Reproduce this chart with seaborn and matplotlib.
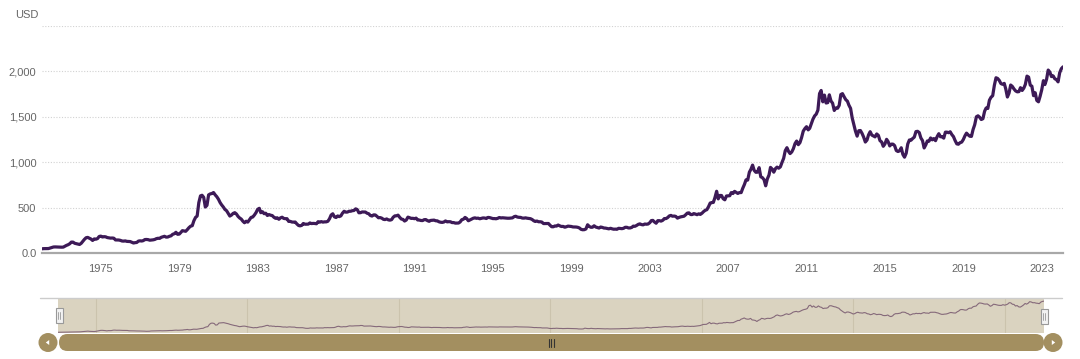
import matplotlib
matplotlib.use("Agg")
import matplotlib.pyplot as plt
from matplotlib.patches import FancyBboxPatch, Circle, Rectangle, Polygon
from matplotlib.ticker import FuncFormatter
import pandas as pd
import seaborn as sns

# gold price, USD per ounce, month-end points
# (first point sits on 1 Jan 1972, last one on 1 Feb 2024)
gold_start = [46]
gold_1970s = [
    48, 48, 48, 49, 55, 62, 66, 67, 66, 65, 63, 64,
    65, 74, 84, 91, 102, 120, 120, 107, 103, 100, 94, 107,
    129, 150, 168, 172, 163, 154, 138, 155, 152, 159, 182, 186,
    176, 180, 178, 170, 167, 164, 165, 163, 144, 143, 143, 139,
    132, 131, 133, 128, 127, 126, 118, 110, 114, 116, 131, 134,
    132, 136, 148, 149, 147, 141, 143, 145, 149, 158, 162, 161,
    173, 178, 184, 175, 176, 184, 189, 206, 212, 228, 206, 208,
    227, 246, 242, 239, 258, 279, 295, 301, 355, 392, 407, 555,
]
gold_1980s = [
    629, 636, 613, 506, 525, 640, 651, 655, 666, 640, 620, 592,
    555, 530, 507, 480, 466, 436, 407, 418, 436, 444, 430, 403,
    385, 374, 350, 333, 350, 340, 366, 392, 396, 418, 444, 481,
    492, 444, 455, 433, 438, 413, 423, 416, 412, 393, 382, 388,
    371, 387, 394, 381, 378, 378, 348, 348, 341, 340, 341, 320,
    303, 299, 304, 325, 317, 317, 318, 331, 324, 326, 325, 322,
    345, 339, 346, 340, 343, 343, 349, 377, 418, 432, 398, 391,
    408, 401, 409, 439, 460, 450, 451, 460, 460, 466, 468, 486,
    478, 443, 444, 452, 452, 451, 438, 432, 413, 407, 420, 419,
    404, 388, 390, 384, 371, 368, 375, 365, 362, 367, 394, 409,
]
gold_1990s = [
    410, 417, 393, 374, 370, 352, 363, 395, 389, 381, 382, 378,
    384, 364, 363, 358, 357, 367, 368, 356, 349, 359, 360, 362,
    355, 354, 344, 339, 337, 341, 353, 343, 345, 344, 335, 335,
    329, 329, 330, 342, 367, 372, 392, 379, 355, 364, 374, 383,
    387, 382, 384, 377, 381, 386, 385, 380, 392, 390, 384, 379,
    379, 377, 382, 391, 386, 388, 386, 384, 383, 383, 385, 387,
    400, 405, 396, 393, 392, 385, 384, 387, 383, 381, 378, 369,
    355, 347, 352, 344, 344, 341, 324, 324, 323, 325, 306, 289,
    289, 298, 296, 308, 299, 292, 293, 284, 289, 296, 294, 292,
    287, 287, 286, 283, 276, 261, 256, 257, 265, 311, 293, 283,
]
gold_2000s = [
    284, 300, 286, 280, 275, 286, 282, 275, 274, 270, 266, 272,
    266, 262, 263, 261, 272, 270, 268, 272, 283, 283, 276, 276,
    282, 296, 294, 303, 315, 321, 313, 310, 319, 317, 319, 333,
    357, 359, 341, 328, 356, 356, 351, 360, 379, 379, 390, 408,
    414, 405, 407, 403, 384, 392, 398, 401, 405, 421, 439, 442,
    424, 423, 434, 429, 422, 431, 425, 438, 456, 470, 477, 510,
    550, 555, 557, 611, 680, 596, 634, 633, 598, 586, 628, 630,
    631, 665, 655, 679, 667, 656, 666, 665, 713, 755, 806, 803,
    890, 922, 968, 910, 889, 890, 940, 839, 830, 807, 740, 816,
    859, 943, 924, 890, 929, 946, 934, 949, 997, 1043, 1127, 1160,
]
gold_2010s = [
    1118, 1095, 1113, 1149, 1205, 1233, 1193, 1216, 1271, 1342, 1370, 1391,
    1356, 1373, 1424, 1474, 1510, 1529, 1573, 1756, 1790, 1665, 1739, 1652,
    1656, 1742, 1674, 1650, 1570, 1597, 1594, 1626, 1745, 1755, 1721, 1689,
    1672, 1628, 1593, 1488, 1414, 1342, 1287, 1347, 1349, 1317, 1276, 1222,
    1244, 1300, 1336, 1299, 1289, 1279, 1311, 1295, 1237, 1223, 1175, 1201,
    1252, 1227, 1179, 1199, 1199, 1182, 1128, 1118, 1125, 1159, 1086, 1055,
    1098, 1200, 1245, 1242, 1261, 1276, 1337, 1340, 1327, 1267, 1238, 1157,
    1192, 1234, 1231, 1267, 1246, 1260, 1237, 1283, 1314, 1280, 1282, 1265,
    1331, 1331, 1325, 1335, 1304, 1282, 1238, 1202, 1198, 1215, 1221, 1250,
    1292, 1320, 1301, 1286, 1284, 1359, 1413, 1500, 1511, 1495, 1470, 1479,
]
gold_2020s = [
    1561, 1597, 1592, 1683, 1716, 1732, 1847, 1930, 1922, 1900, 1866, 1858,
    1868, 1808, 1718, 1760, 1850, 1835, 1807, 1785, 1775, 1777, 1821, 1790,
    1816, 1856, 1948, 1937, 1849, 1837, 1733, 1765, 1680, 1665, 1725, 1798,
    1898, 1855, 1913, 2015, 1992, 1943, 1951, 1919, 1910, 1885, 1985, 2030,
    2050,
]

prices = (gold_start + gold_1970s + gold_1980s + gold_1990s + gold_2000s
          + gold_2010s + gold_2020s)
dates = pd.date_range("1972-01-01", periods=len(prices), freq="MS")
df = pd.DataFrame({"date": dates, "price": prices})

main_ticks = list(range(1975, 2024, 4))
nav_ticks = list(range(1974, 2023, 8))
y_ticks = [0, 500, 1000, 1500, 2000, 2500]

LINE = "#3d1a57"
GREY = "#666666"
GOLD = "#a38f60"

sns.set_style("white")
plt.rcParams["font.family"] = ["Liberation Sans", "DejaVu Sans"]

W, H = 1080, 359
fig = plt.figure(figsize=(W / 100, H / 100), dpi=100)


def px_axes(x0, y0, x1, y1):
    return fig.add_axes([x0 / W, 1 - y1 / H, (x1 - x0) / W, (y1 - y0) / H])


# main chart
ax = px_axes(42, 26, 1063, 253)
sns.lineplot(data=df, x="date", y="price", ax=ax, color=LINE, linewidth=2.3,
             errorbar=None)
ax.set_xlim(dates[0], dates[-1])
ax.set_ylim(0, 2500)
ax.set_yticks(y_ticks)
ax.yaxis.set_major_formatter(FuncFormatter(
    lambda v, p: "0.0" if v == 0 else ("" if v >= 2500 else f"{v:,.0f}")))
ax.set_xticks([pd.Timestamp(f"{y}-01-01") for y in main_ticks])
ax.set_xticklabels([str(y) for y in main_ticks])
ax.set_xlabel("")
ax.set_ylabel("")
ax.grid(axis="y", color="#d2d2d2", linestyle=(0, (1, 1.5)), linewidth=0.8)
ax.tick_params(axis="y", length=0, pad=4, labelsize=8, labelcolor=GREY)
ax.tick_params(axis="x", length=6.5, width=0.8, color="#ccd6eb", pad=1.5,
               labelsize=8, labelcolor=GREY)
for s in ["top", "right", "left"]:
    ax.spines[s].set_visible(False)
ax.spines["bottom"].set_color("#a8a8a8")
ax.spines["bottom"].set_linewidth(1.6)
fig.text(15 / W, 1 - 15 / H, "USD", fontsize=8, color=GREY, va="center",
         ha="left")

# navigator
nav = px_axes(58, 298, 1044, 333)
nav.set_facecolor("#dad3c0")
sns.lineplot(data=df, x="date", y="price", ax=nav, color="#85697a",
             linewidth=0.8, errorbar=None)
nav.set_xlim(dates[0], dates[-1])
nav.set_ylim(0, 2250)
nav.set_xticks([pd.Timestamp(f"{y}-01-01") for y in nav_ticks])
nav.set_yticks([])
nav.tick_params(length=0, labelbottom=False)
nav.grid(axis="x", color="#cbc3ad", linewidth=0.8)
nav.set_xlabel("")
nav.set_ylabel("")
for s in nav.spines.values():
    s.set_visible(False)

# scrollbar and handles drawn in pixel space
ov = fig.add_axes([0, 0, 1, 1], zorder=5)
ov.set_xlim(0, W)
ov.set_ylim(H, 0)
ov.axis("off")
ov.plot([40, 1062], [298, 298], color="#cccccc", linewidth=1)
ov.add_patch(FancyBboxPatch((59, 334), 985, 17,
                            boxstyle="round,pad=0,rounding_size=8.5",
                            facecolor=GOLD, edgecolor="none"))
for cx, d in [(48, -1), (1053, 1)]:
    ov.add_patch(Circle((cx, 342.5), 9.5, facecolor=GOLD, edgecolor="none"))
    ov.add_patch(Polygon([(cx + 2.2 * d, 342.5), (cx - 1.2 * d, 340),
                          (cx - 1.2 * d, 345)], facecolor="white",
                         edgecolor="none"))
for gx in [548.5, 551, 553.5]:
    ov.plot([gx, gx], [338.5, 346.5], color="#333333", linewidth=0.8)
for hx, hy in [(59, 315.5), (1044, 316)]:
    ov.add_patch(Rectangle((hx - 3.5, hy - 7.5), 7, 15, facecolor="#f2f2f2",
                           edgecolor="#999999", linewidth=0.8))
    ov.plot([hx - 1, hx - 1], [hy - 3.5, hy + 3.5], color="#999999",
            linewidth=0.6)
    ov.plot([hx + 1, hx + 1], [hy - 3.5, hy + 3.5], color="#999999",
            linewidth=0.6)

fig.savefig("out.png", dpi=100)
